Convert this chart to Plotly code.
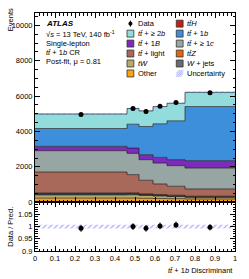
import numpy as np
import plotly.graph_objects as go
from plotly.subplots import make_subplots

# ---------------- data ----------------
bin_edges = [0.0, 0.46, 0.52, 0.59, 0.66, 0.75, 1.0]
other    = [230, 230, 220, 210, 200, 180]
tw       = [180, 190, 160, 140, 120, 100]
wjets    = [50, 40, 35, 30, 25, 20]
ttz      = [25, 25, 20, 20, 15, 15]
tth      = [45, 40, 35, 35, 35, 25]
tt_light = [1177, 1035, 770, 596, 506, 409]
tt_1c    = [1206, 1201, 1165, 1183, 1167, 1183]
tt_1B    = [242, 300, 282, 321, 337, 417]
tt_1b    = [1014, 1351, 1595, 1898, 2197, 3060]
tt_2b    = [821, 888, 884, 976, 995, 806]
data     = [4955, 5300, 5130, 5425, 5636, 6196]
rel_unc  = [0.008, 0.008, 0.008, 0.008, 0.008, 0.008]

components = [
    ("Other", other, "#f8a30f"),
    ("tW", tw, "#b8aa6c"),
    ("W + jets", wjets, "#686c70"),
    ("ttZ", ttz, "#e2650c"),
    ("ttH", tth, "#c0200c"),
    ("tt+light", tt_light, "#a8685a"),
    ("tt+>=1c", tt_1c, "#98a6a3"),
    ("tt+1B", tt_1B, "#7b2cbc"),
    ("tt+1b", tt_1b, "#3d8edb"),
    ("tt+>=2b", tt_2b, "#93dcdc"),
]

W, H = 249, 279
L, R, T, B = 32, 12, 12, 28
PW, PH = W - L - R, H - T - B
def pxx(x): return (x - L) / PW
def pxy(y): return (T + PH - y) / PH

FONT = "Liberation Sans, Arial, sans-serif"

fig = make_subplots(rows=2, cols=1, shared_xaxes=True, vertical_spacing=0,
                    row_heights=[0.795, 0.205])

edges = np.array(bin_edges)
centers = 0.5 * (edges[:-1] + edges[1:])
def step(v):
    v = list(v)
    return v + [v[-1]]

for name, vals, col in components:
    fig.add_trace(go.Scatter(x=edges, y=step(vals), mode="lines", line_shape="hv",
                             stackgroup="one", fillcolor=col,
                             line=dict(color="rgba(30,30,30,0.85)", width=0.8),
                             name=name, showlegend=False, hoverinfo="skip"),
                  row=1, col=1)

total = np.sum([np.array(v) for _, v, _ in components], axis=0)
unc = total * np.array(rel_unc)
hatch = dict(shape="/", fgcolor="#5a5aff", bgcolor="rgba(0,0,0,0)", size=4, solidity=0.35)

fig.add_trace(go.Scatter(x=edges, y=step(total - unc), mode="lines", line_shape="hv",
                         line=dict(width=0, color="rgba(0,0,0,0)"), showlegend=False,
                         hoverinfo="skip"), row=1, col=1)
fig.add_trace(go.Scatter(x=edges, y=step(total + unc), mode="lines", line_shape="hv",
                         fill="tonexty", fillcolor="rgba(0,0,0,0)", fillpattern=hatch,
                         line=dict(width=0, color="rgba(0,0,0,0)"), showlegend=False,
                         hoverinfo="skip"), row=1, col=1)

dat = np.array(data, dtype=float)
fig.add_trace(go.Scatter(x=centers, y=dat, mode="markers",
                         marker=dict(color="black", size=5),
                         error_y=dict(type="data", array=np.sqrt(dat), color="black",
                                      thickness=1, width=0),
                         showlegend=False, hoverinfo="skip"), row=1, col=1)

# ratio panel
fig.add_trace(go.Scatter(x=edges, y=step(1 - np.array(rel_unc)), mode="lines", line_shape="hv",
                         line=dict(width=0, color="rgba(0,0,0,0)"), showlegend=False,
                         hoverinfo="skip"), row=2, col=1)
fig.add_trace(go.Scatter(x=edges, y=step(1 + np.array(rel_unc)), mode="lines", line_shape="hv",
                         fill="tonexty", fillcolor="rgba(0,0,0,0)", fillpattern=hatch,
                         line=dict(width=0, color="rgba(0,0,0,0)"), showlegend=False,
                         hoverinfo="skip"), row=2, col=1)
ratio = dat / total
fig.add_trace(go.Scatter(x=centers, y=ratio, mode="markers",
                         marker=dict(color="black", size=5),
                         error_y=dict(type="data", array=np.sqrt(dat) / total, color="black",
                                      thickness=1, width=0),
                         showlegend=False, hoverinfo="skip"), row=2, col=1)

axcommon = dict(showline=True, linecolor="black", linewidth=1, mirror="allticks",
                ticks="inside", tickcolor="black", showgrid=False, zeroline=False,
                tickfont=dict(family=FONT, size=7.5, color="black"))

fig.update_xaxes(range=[0, 1], dtick=0.1, ticklen=5,
                 minor=dict(ticks="inside", dtick=0.02, ticklen=2.5, tickcolor="black"),
                 **axcommon)
fig.update_xaxes(showticklabels=False, row=1, col=1)
fig.update_xaxes(tickvals=[0, 0.1, 0.2, 0.3, 0.4, 0.5, 0.6, 0.7, 0.8, 0.9, 1],
                 ticktext=["0", "0.1", "0.2", "0.3", "0.4", "0.5", "0.6", "0.7", "0.8", "0.9", "1"],
                 row=2, col=1)
fig.update_yaxes(range=[0, 10700], dtick=2000, ticklen=5, tickformat="d",
                 minor=dict(ticks="inside", dtick=500, ticklen=2.5, tickcolor="black"),
                 row=1, col=1, **axcommon)
fig.update_yaxes(range=[0.9, 1.1], tickvals=[0.9, 0.95, 1.0, 1.05],
                 ticktext=["0.9", "0.95", "1", "1.05"], ticklen=5,
                 minor=dict(ticks="inside", dtick=0.01, ticklen=2.5, tickcolor="black"),
                 row=2, col=1, **axcommon)

ann = []
def text(x, y, s, size=8, xanchor="left", yanchor="middle", angle=0):
    ann.append(dict(x=pxx(x), y=pxy(y), xref="paper", yref="paper", text=s,
                    showarrow=False, xanchor=xanchor, yanchor=yanchor, textangle=angle,
                    font=dict(family=FONT, size=size, color="black")))

TT = "<i>t</i><i>t̄</i>"
text(41, 22.7, "<b><i>ATLAS</i></b>")
text(41, 33.0, "√<i>s</i> = 13 TeV, 140 fb<sup>-1</sup>", size=7.5)
text(41, 42.3, "Single-lepton", size=7.5)
text(41, 51.7, TT + " + 1<i>b</i> CR", size=7.5)
text(41, 61.0, "Post-fit, μ = 0.81", size=7.5)

shapes = []
def box(x0, y0, col):
    shapes.append(dict(type="rect", xref="paper", yref="paper",
                       x0=pxx(x0), x1=pxx(x0 + 7), y0=pxy(y0 + 3.5), y1=pxy(y0 - 3.5),
                       fillcolor=col, line=dict(color="#333333", width=0.8)))

col1 = [("Data", None), (TT + " + ≥ 2<i>b</i>", "#93dcdc"), (TT + " + 1<i>B</i>", "#7b2cbc"),
        (TT + " + light", "#a8685a"), ("<i>tW</i>", "#b8aa6c"), ("Other", "#f8a30f")]
col2 = [(TT + "<i>H</i>", "#c0200c"), (TT + " + 1<i>b</i>", "#3d8edb"),
        (TT + " + ≥ 1<i>c</i>", "#98a6a3"), (TT + "<i>Z</i>", "#e2650c"),
        ("<i>W</i> + jets", "#686c70"), ("Uncertainty", None)]
rows_y = [22.7, 32.7, 42.7, 52.7, 62.7, 72.7]
for (lab, c), yy in zip(col1, rows_y):
    if c is not None:
        box(126.3, yy, c)
    text(135.3, yy, lab, size=7.5)
for (lab, c), yy in zip(col2, rows_y):
    if c is not None:
        box(176.8, yy, c)
    text(186.0, yy, lab, size=7.5)

# data legend marker
shapes.append(dict(type="line", xref="paper", yref="paper", x0=pxx(129.8), x1=pxx(129.8),
                   y0=pxy(19.7), y1=pxy(25.7), line=dict(color="black", width=1)))
shapes.append(dict(type="circle", xref="paper", yref="paper", x0=pxx(128.0), x1=pxx(131.6),
                   y0=pxy(24.5), y1=pxy(20.9), fillcolor="black", line=dict(color="black", width=0.5)))
# uncertainty legend hatch
for (a, b, c, d) in [(176.8, 76.2, 183.8, 69.2), (176.8, 72.7, 180.3, 69.2), (180.3, 76.2, 183.8, 72.7),
                     (176.8, 74.5, 182.1, 69.2), (178.5, 76.2, 183.8, 70.9)]:
    shapes.append(dict(type="line", xref="paper", yref="paper", x0=pxx(a), y0=pxy(b),
                       x1=pxx(c), y1=pxy(d), line=dict(color="#8c8cff", width=0.7)))

text(7, 5, "Events", size=7.5, xanchor="center", yanchor="top", angle=-90)
text(6, 227, "Data / Pred.", size=7.5, xanchor="center", angle=-90)
text(237, 271, TT + " + 1<i>b</i> Discriminant", size=7.5, xanchor="right")

fig.update_layout(width=W, height=H, margin=dict(l=L, r=R, t=T, b=B),
                  paper_bgcolor="white", plot_bgcolor="white",
                  annotations=ann, shapes=shapes, showlegend=False,
                  font=dict(family=FONT, size=7.5, color="black"))

fig.write_html("out.html", config={"displayModeBar": False},
               post_script="document.body.style.margin='0px';document.body.style.padding='0px';document.body.style.overflow='hidden';")
